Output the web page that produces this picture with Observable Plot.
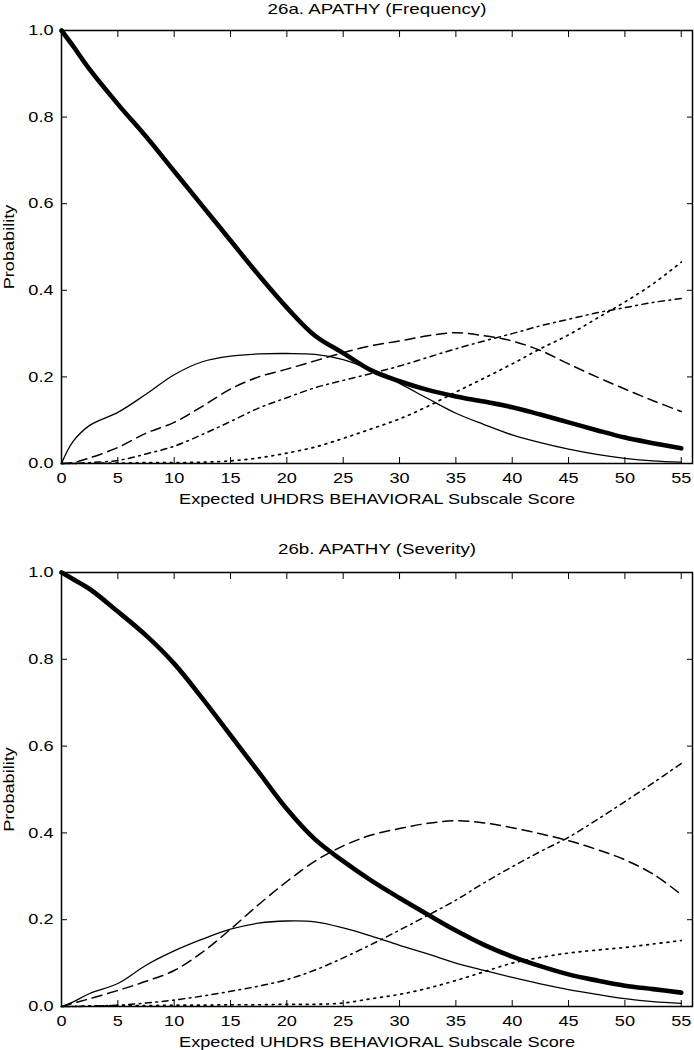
<!DOCTYPE html>
<html>
<head>
<meta charset="utf-8">
<script src="https://cdn.jsdelivr.net/npm/d3@7"></script>
<script src="https://cdn.jsdelivr.net/npm/@observablehq/plot@0.6"></script>
<style>
  html, body { margin: 0; padding: 0; background: #fff; }
  #chart { width: 694px; }
  #chart svg { display: block; }
</style>
</head>
<body>
<div id="chart"></div>
<script>
// ---------- data ----------
const xScore = [0, 1, 2.5, 5, 7.5, 10, 12.5, 15, 17.5, 20, 22.5, 25, 27.5, 30, 32.5, 35, 37.5, 40, 42.5, 45, 47.5, 50, 52.5, 55];
const xTicks = [0, 5, 10, 15, 20, 25, 30, 35, 40, 45, 50, 55];
const yTicks = [0, 0.2, 0.4, 0.6, 0.8, 1.0];

const panelTitles = ["26a. APATHY (Frequency)", "26b. APATHY (Severity)"];
const xLabel = "Expected UHDRS BEHAVIORAL Subscale Score";
const yLabel = "Probability";

// 26a. Frequency: response categories 0..4
const freq0 = [1.0, 0.965, 0.91, 0.83, 0.755, 0.675, 0.595, 0.515, 0.435, 0.36, 0.295, 0.255, 0.215, 0.19, 0.17, 0.155, 0.143, 0.13, 0.113, 0.095, 0.077, 0.06, 0.047, 0.035];
const freq1 = [0.0, 0.05, 0.088, 0.118, 0.16, 0.205, 0.235, 0.248, 0.253, 0.254, 0.252, 0.24, 0.216, 0.185, 0.15, 0.116, 0.09, 0.066, 0.048, 0.033, 0.021, 0.012, 0.006, 0.003];
const freq2 = [0.0, 0.002, 0.013, 0.037, 0.07, 0.095, 0.132, 0.172, 0.2, 0.218, 0.237, 0.256, 0.272, 0.283, 0.295, 0.302, 0.295, 0.283, 0.261, 0.23, 0.2, 0.172, 0.145, 0.12];
const freq3 = [0.0, 0.0, 0.002, 0.007, 0.022, 0.04, 0.067, 0.097, 0.128, 0.152, 0.175, 0.192, 0.208, 0.225, 0.245, 0.265, 0.283, 0.3, 0.318, 0.333, 0.348, 0.36, 0.372, 0.381];
const freq4 = [0.0, 0.0, 0.001, 0.001, 0.002, 0.002, 0.003, 0.006, 0.013, 0.024, 0.038, 0.058, 0.08, 0.103, 0.132, 0.165, 0.197, 0.23, 0.265, 0.297, 0.335, 0.373, 0.415, 0.465];

// 26b. Severity: response categories 0..4
const sev0 = [1.0, 0.985, 0.962, 0.91, 0.855, 0.79, 0.71, 0.625, 0.54, 0.455, 0.385, 0.335, 0.29, 0.25, 0.212, 0.175, 0.142, 0.115, 0.093, 0.074, 0.06, 0.048, 0.04, 0.032];
const sev1 = [0.0, 0.01, 0.03, 0.053, 0.095, 0.128, 0.155, 0.178, 0.192, 0.197, 0.195, 0.181, 0.162, 0.141, 0.121, 0.1, 0.083, 0.067, 0.052, 0.039, 0.028, 0.018, 0.011, 0.007];
const sev2 = [0.0, 0.007, 0.018, 0.037, 0.058, 0.083, 0.125, 0.178, 0.235, 0.288, 0.335, 0.37, 0.395, 0.41, 0.422, 0.428, 0.423, 0.412, 0.398, 0.382, 0.362, 0.338, 0.305, 0.258];
const sev3 = [0.0, 0.0, 0.001, 0.003, 0.008, 0.015, 0.024, 0.035, 0.047, 0.062, 0.084, 0.112, 0.143, 0.176, 0.21, 0.245, 0.285, 0.322, 0.357, 0.39, 0.43, 0.472, 0.515, 0.56];
const sev4 = [0.0, 0.0, 0.001, 0.002, 0.002, 0.003, 0.003, 0.004, 0.004, 0.005, 0.005, 0.008, 0.018, 0.028, 0.042, 0.06, 0.08, 0.1, 0.113, 0.123, 0.13, 0.136, 0.144, 0.152];

// ---------- styles per category ----------
const catStyles = [
  {strokeWidth: 4.6, strokeDasharray: null},
  {strokeWidth: 1.3, strokeDasharray: null},
  {strokeWidth: 1.5, strokeDasharray: "10,6"},
  {strokeWidth: 1.5, strokeDasharray: "6,4.5,1.8,4.5"},
  {strokeWidth: 1.7, strokeDasharray: "1.8,5"}
];

const FONT = "'Liberation Sans', Arial, Helvetica, sans-serif";
const STRETCH = 1.25;

function toRows(values) {
  return xScore.map((x, i) => ({x, p: values[i]}));
}

function panel(title, series, {height, marginTop, marginBottom, titleDy}) {
  const lines = series.map((vals, k) =>
    Plot.line(toRows(vals), {
      x: "x", y: "p",
      stroke: "black",
      strokeWidth: catStyles[k].strokeWidth,
      strokeDasharray: catStyles[k].strokeDasharray,
      curve: "catmull-rom",
      strokeLinejoin: "round"
    })
  );
  return Plot.plot({
    width: 694,
    height,
    marginTop,
    marginBottom,
    marginLeft: 61,
    marginRight: 2,
    style: {fontFamily: FONT, fontSize: "14.5px", background: "white", color: "black"},
    x: {domain: [0, 56], label: null},
    y: {domain: [0, 1], label: null},
    marks: [
      ...lines.slice().reverse(),
      Plot.axisX({anchor: "bottom", ticks: xTicks, tickSize: -6, tickPadding: 15, label: null, tickFormat: d => String(d)}),
      Plot.axisX({anchor: "top", ticks: xTicks, tickSize: -6, label: null, tickFormat: () => ""}),
      Plot.axisY({anchor: "left", ticks: yTicks, tickSize: -6, tickPadding: 14, label: null, tickFormat: d3.format(".1f")}),
      Plot.axisY({anchor: "right", ticks: yTicks, tickSize: -6, label: null, tickFormat: () => ""}),
      Plot.frame({stroke: "black", strokeWidth: 1.5}),
      Plot.text([title], {frameAnchor: "top", lineAnchor: "bottom", dy: titleDy, fontSize: 15}),
      Plot.text([xLabel], {frameAnchor: "bottom", lineAnchor: "bottom", dy: 40, fontSize: 14.5}),
      Plot.text([yLabel], {frameAnchor: "left", textAnchor: "middle", rotate: -90, dx: -52, fontSize: 14.5})
    ]
  });
}

const chart = document.getElementById("chart");
const p1 = panel(panelTitles[0], [freq0, freq1, freq2, freq3, freq4], {height: 520, marginTop: 30, marginBottom: 57, titleDy: -17});
const p2 = panel(panelTitles[1], [sev0, sev1, sev2, sev3, sev4], {height: 530, marginTop: 52, marginBottom: 44, titleDy: -19});
chart.append(p1, p2);

// widen glyphs along the text direction to match the reference's stretched lettering
for (const svg of [p1, p2]) {
  svg.querySelectorAll("text").forEach(t => {
    if (!t.textContent) return;
    const w = t.getComputedTextLength();
    if (w > 0) {
      t.setAttribute("textLength", (w * STRETCH).toFixed(2));
      t.setAttribute("lengthAdjust", "spacingAndGlyphs");
    }
  });
}
</script>
</body>
</html>
